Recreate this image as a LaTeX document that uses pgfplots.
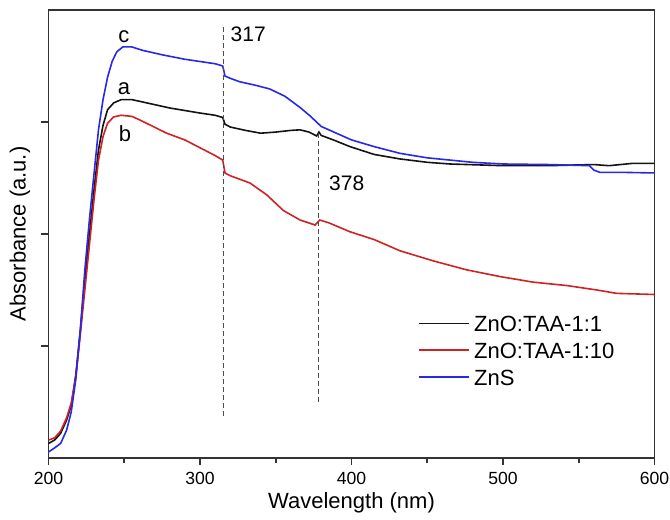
\documentclass[border=0pt]{standalone}
\usepackage{fontspec}
\setmainfont{Liberation Sans}
\usepackage{pgfplots}
\pgfplotsset{compat=1.18}

\definecolor{cA}{RGB}{20,20,20}
\definecolor{cB}{RGB}{205,35,35}
\definecolor{cC}{RGB}{40,40,230}

\begin{document}
\begin{tikzpicture}
\begin{axis}[
    width=303pt, height=224pt, scale only axis,
    xmin=200, xmax=600, ymin=0, ymax=4,
    xtick={200,300,400,500,600},
    minor xtick={250,350,450,550},
    ytick={1,2,3}, yticklabels={},
    tick align=outside, xtick pos=bottom, ytick pos=left,
    major tick length=3.5pt, minor tick length=2.5pt,
    axis line style={line width=0.8pt, black!80},
    every tick/.style={line width=0.8pt, black!80},
    /pgf/number format/assume math mode=true,
    ticklabel style={font=\fontsize{8.8}{10}\selectfont},
    xticklabel style={inner xsep=0pt},
    xlabel={Wavelength (nm)},
    ylabel={Absorbance (a.u.)},
    label style={font=\fontsize{11}{13}\selectfont},
    xlabel style={at={(axis description cs:0.5,-0.1)}, anchor=center},
    ylabel style={at={(axis description cs:-0.047,0.5)}, anchor=center},
    legend style={draw=none, fill=none, font=\fontsize{11}{13}\selectfont,
        at={(axis description cs:0.6,0.342)}, anchor=north west,
        row sep=-1pt, nodes={text height=9.3pt, text depth=1pt}},
    legend cell align=left,
    legend image code/.code={\draw[#1] (0pt,0pt) -- (25pt,0pt);},
    clip=false,
]
% a: ZnO:TAA-1:1
\addplot[cA, line width=0.8pt] coordinates {
(200,0.13) (204,0.16) (208,0.22) (212,0.34) (215,0.47) (218,0.74) (221,1.14)
(224,1.59) (227,1.99) (230,2.39) (233,2.75) (236,2.97) (239,3.11) (243,3.17)
(248,3.20) (255,3.20) (265,3.17) (280,3.125) (300,3.08) (310,3.06) (315,3.04)
(316.5,2.98) (320,2.955) (330,2.925) (340,2.90) (350,2.91) (360,2.925) (366,2.93)
(372,2.91) (377,2.875) (378.5,2.91) (380,2.88) (388,2.84) (399,2.78) (415,2.71)
(432,2.67) (450,2.64) (465,2.625) (500,2.61) (530,2.61) (560,2.62) (570,2.61)
(585,2.63) (600,2.63)
};
\addlegendentry{ZnO:TAA-1:1}
% b: ZnO:TAA-1:10
\addplot[cB, line width=0.8pt] coordinates {
(200,0.16) (204,0.18) (208,0.24) (212,0.36) (215,0.49) (218,0.72) (221,1.10)
(224,1.50) (227,1.90) (230,2.30) (233,2.66) (236,2.87) (239,2.99) (243,3.045)
(248,3.06) (255,3.05) (260,3.02) (266,2.98) (278,2.90) (290,2.84) (300,2.77)
(310,2.70) (315,2.66) (316.5,2.545) (320,2.52) (333,2.455) (344,2.35) (355,2.21)
(366,2.125) (376,2.08) (379,2.125) (385,2.10) (399,2.02) (415,1.95) (432,1.85)
(454,1.76) (476,1.68) (498,1.62) (520,1.57) (542,1.54) (562,1.50) (575,1.47)
(600,1.46)
};
\addlegendentry{ZnO:TAA-1:10}
% c: ZnS
\addplot[cC, line width=0.8pt] coordinates {
(200,0.054) (204,0.09) (208,0.13) (212,0.25) (215,0.41) (218,0.70) (221,1.14)
(224,1.68) (227,2.125) (230,2.53) (233,2.93) (236,3.20) (239,3.40) (242,3.54)
(245,3.625) (249,3.67) (255,3.67) (262,3.64) (275,3.60) (290,3.56) (300,3.54)
(310,3.52) (315,3.50) (316.5,3.41) (320,3.39) (326,3.36) (336,3.33) (346,3.295)
(356,3.23) (366,3.13) (373,3.05) (380,2.96) (390,2.90) (400,2.84) (415,2.78)
(432,2.72) (450,2.68) (465,2.66) (480,2.64) (500,2.625) (530,2.62) (557,2.61)
(560,2.57) (564,2.55) (580,2.55) (600,2.545)
};
\addlegendentry{ZnS}
% reference lines
\addplot[black!70, line width=0.6pt, dash pattern=on 2.5pt off 1.5pt, forget plot]
  coordinates {(315.7,3.85) (315.7,0.357)};
\addplot[black!70, line width=0.6pt, dash pattern=on 2.5pt off 1.5pt, forget plot]
  coordinates {(378.3,2.90) (378.3,0.50)};
\node[anchor=west, font=\fontsize{10.5}{12}\selectfont, inner sep=0pt] at (axis cs:320,3.78) {317};
\node[anchor=west, font=\fontsize{10.5}{12}\selectfont, inner sep=0pt] at (axis cs:385,2.45) {378};
\node[font=\fontsize{11}{13}\selectfont, inner sep=0pt] at (axis cs:249.8,3.76) {c};
\node[font=\fontsize{11}{13}\selectfont, inner sep=0pt] at (axis cs:249.8,3.30) {a};
\node[font=\fontsize{11}{13}\selectfont, inner sep=0pt] at (axis cs:250.5,2.90) {b};
\path (rel axis cs:-0.080,-0.125) rectangle (rel axis cs:1.0255,1.0223);
\end{axis}
\end{tikzpicture}
\end{document}
